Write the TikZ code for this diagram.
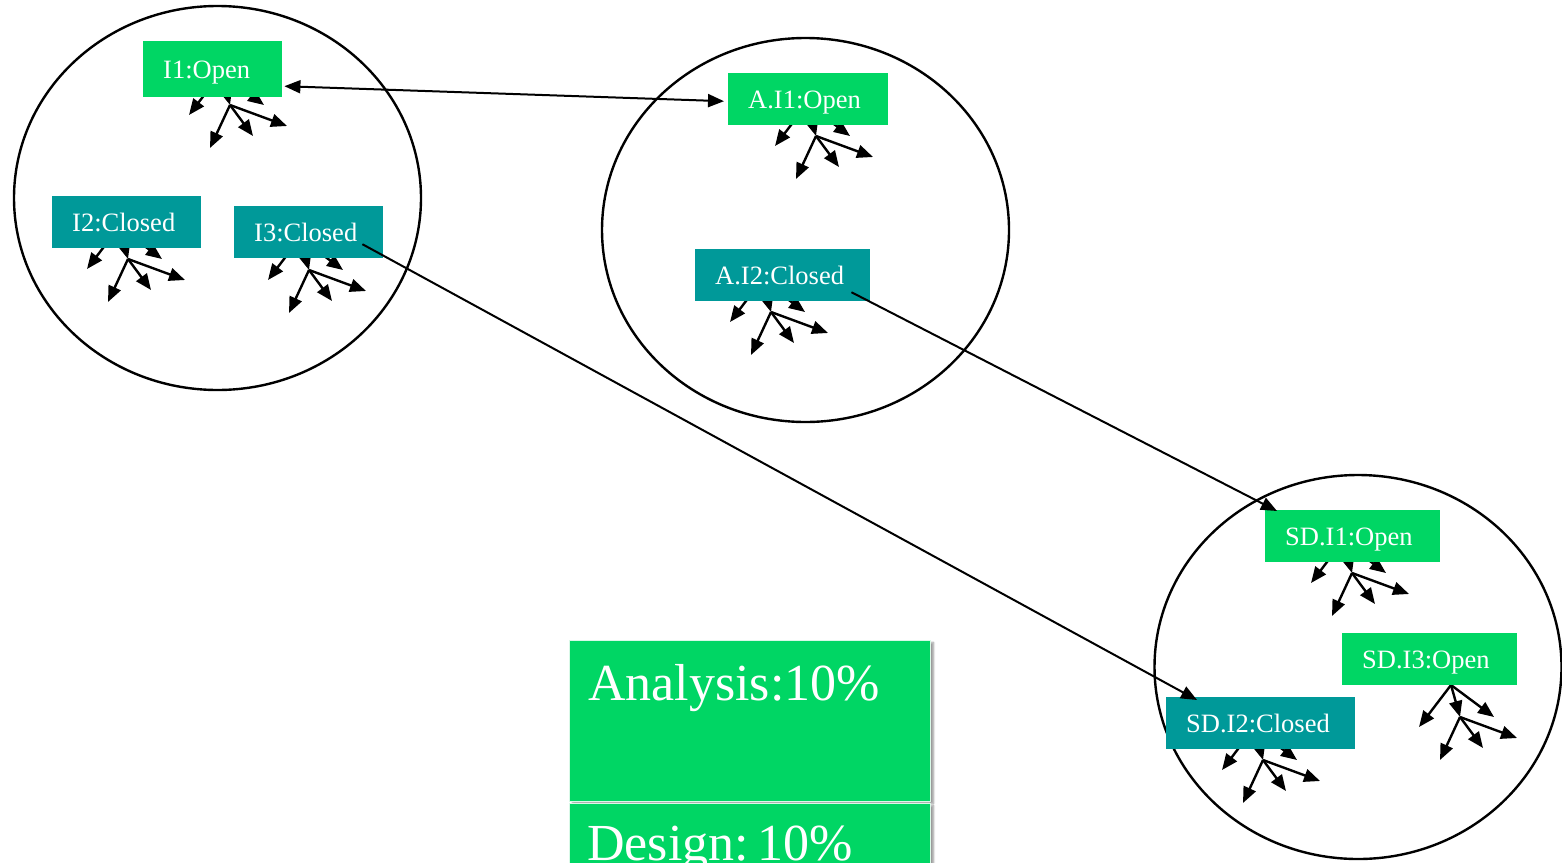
\documentclass[tikz,border=0pt]{standalone}
\usepackage{fontspec}
\setmainfont{Liberation Serif}
\usetikzlibrary{arrows.meta,calc,shapes.geometric,shadows.blur}

\definecolor{openfill}{RGB}{0,214,100}
\definecolor{closedfill}{RGB}{0,153,153}

\tikzset{
  cluster/.style={ellipse, draw=black, line width=2.4pt, inner sep=0pt,
                  minimum width=407pt, minimum height=384pt},
  statebox/.style={rectangle, inner xsep=20pt, inner ysep=0pt, align=left,
                   anchor=north west, text=white, text height=24pt, text depth=5pt,
                   font=\fontsize{26.5}{30}\selectfont},
  openbox/.style={statebox, fill=openfill},
  closedbox/.style={statebox, fill=closedfill},
  fanarrow/.style={line width=2.4pt, -{Triangle[length=16pt,width=13pt]}},
  conn/.style={line width=2pt, -{Triangle[length=16pt,width=13pt]}},
  connboth/.style={line width=2pt, {Triangle[length=16pt,width=13pt]}-{Triangle[length=16pt,width=13pt]}},
  phasebox/.style={rectangle, fill=openfill, draw=white!85!openfill, line width=1pt,
                   anchor=north west, minimum width=361pt, minimum height=161pt,
                   blur shadow={shadow xshift=3pt, shadow yshift=-2pt, shadow blur steps=6}},
  phasetext/.style={anchor=base west, text=white, inner sep=0pt,
                    font=\fontsize{52}{60}\selectfont},
  fan/.pic={
    \draw[fanarrow] (0,0) -- (-32,42);
    \draw[fanarrow] (0,0) -- (43,32);
    \draw[fanarrow] (0,0) -- (9,32);
    \draw[fanarrow] (9,32) -- (-11,75);
    \draw[fanarrow] (9,32) -- (32,63);
    \draw[fanarrow] (9,32) -- (66,53);
  }
}

\begin{document}
\begin{tikzpicture}[x=1pt, y=-1pt]
\useasboundingbox (0,0) rectangle (1562,862);
\clip (0,0) rectangle (1562,862);

% three containers
\node[cluster] (iter) at (217.5,198) {};
\node[cluster] (ana) at (805.5,230) {};
\node[cluster] (sd) at (1358,667) {};

% fan-outs beneath each state
\pic at (221,73) {fan};
\pic at (807,104) {fan};
\pic at (119,227) {fan};
\pic at (300,238) {fan};
\pic at (762,280) {fan};
\pic at (1343,541) {fan};
\pic at (1451,685) {fan};
\pic at (1254,728) {fan};

% state boxes
\node[openbox, text width=99pt, minimum height=56pt] (i1) at (143,41) {I1:Open};
\node[closedbox, text width=109pt, minimum height=52pt] (i2) at (52,196) {I2:Closed};
\node[closedbox, text width=109pt, minimum height=52pt] (i3) at (234,206) {I3:Closed};
\node[openbox, text width=120pt, minimum height=52pt] (ai1) at (728,73) {A.I1:Open};
\node[closedbox, text width=135pt, minimum height=52pt] (ai2) at (695,249) {A.I2:Closed};
\node[openbox, text width=135pt, minimum height=52pt] (sdi1) at (1265,510) {SD.I1:Open};
\node[openbox, text width=135pt, minimum height=52pt] (sdi3) at (1342,633) {SD.I3:Open};
\node[closedbox, text width=149pt, minimum height=52pt] (sdi2) at (1166,697) {SD.I2:Closed};

% links between states
\draw[connboth] ($(i1.east)+(2,17)$) -- ($(ai1.west)+(-4,2)$);
\draw[conn] ($(i3.east)+(-21,12)$) -- ($(sdi2.north west)+(31,3)$);
\draw[conn] ($(ai2.east)+(-19,17)$) -- ($(sdi1.north west)+(12,1)$);

% phase percentages
\node[phasebox] (pa) at (569,640) {};
\node[phasetext] (patext) at ($(pa.north west)+(19,60)$) {Analysis:10\%};
\node[phasebox] (pd) at (569,803) {};
\node[phasetext] (pdtext) at ($(pd.north west)+(18,57)$) {Design:\,10\%};
\end{tikzpicture}
\end{document}
